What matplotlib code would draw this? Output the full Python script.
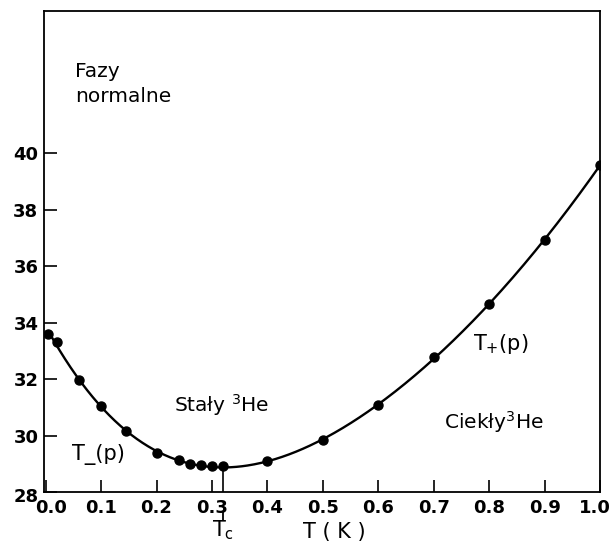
import numpy as np
import matplotlib.pyplot as plt
from matplotlib.transforms import ScaledTranslation

plt.rcParams['font.family'] = ['DejaVu Sans']

# melting curve of 3He: temperature (K) vs pressure (bar)
temp_k = [0.005, 0.02, 0.06, 0.10, 0.145, 0.20, 0.24, 0.26, 0.28, 0.30, 0.32,
          0.40, 0.50, 0.60, 0.70, 0.80, 0.90, 1.00]
pressure = [33.6, 33.32, 31.98, 31.05, 30.15, 29.4, 29.14, 28.98, 28.96, 28.91, 28.91,
            29.1, 29.85, 31.07, 32.78, 34.65, 36.95, 39.58]
t_min = 0.32
x_ticks = [0.0, 0.1, 0.2, 0.3, 0.4, 0.5, 0.6, 0.7, 0.8, 0.9, 1.0]
x_labels = ['0.0', '0.1', '0.2', '0.3', '0.4', '0.5', '0.6', '0.7', '0.8', '0.9', '1.0']
y_ticks = [28, 30, 32, 34, 36, 38, 40]

fig = plt.figure(figsize=(6.11, 5.45), dpi=100)
ax = fig.add_axes([0.072, 0.097, 0.91, 0.883])

# smooth curve through the measured points
coef = np.polyfit(temp_k, pressure, 6)
tt = np.linspace(temp_k[0], temp_k[-1], 400)
ax.plot(tt, np.polyval(coef, tt), color='black', lw=1.7, zorder=2)
ax.plot(temp_k, pressure, 'o', color='black', ms=6.5, zorder=3)

# marker for the minimum of the curve, plus a short dash under the tick label
p_min = np.polyval(coef, t_min)
ax.plot([t_min, t_min], [p_min, 28], color='black', lw=1.2, zorder=2)
ax.plot([t_min, t_min], [27.3, 27.02], color='black', lw=1.3,
        clip_on=False, zorder=5)

ax.set_xlim(-0.003, 1.0)
ax.set_ylim(28, 45.05)
ax.set_xticks(x_ticks)
ax.set_xticklabels(x_labels)
ax.set_yticks(y_ticks)
ax.tick_params(direction='in', length=9, width=1.2, labelsize=13, pad=5)
ax.tick_params(axis='x', top=False)
ax.tick_params(axis='y', right=False, pad=4)
for lab in ax.get_xticklabels() + ax.get_yticklabels():
    lab.set_fontweight('bold')
for s in ax.spines.values():
    s.set_linewidth(1.3)

# nudge the corner labels away from each other
xl = ax.get_xticklabels()
xl[0].set_transform(xl[0].get_transform() + ScaledTranslation(5 / 100, 0, fig.dpi_scale_trans))
xl[-1].set_transform(xl[-1].get_transform() + ScaledTranslation(-5 / 100, 0, fig.dpi_scale_trans))
yl = ax.get_yticklabels()
yl[0].set_transform(yl[0].get_transform() + ScaledTranslation(0, -3 / 100, fig.dpi_scale_trans))

ax.text(0.053, 43.25, 'Fazy\nnormalne', fontsize=14.5, ha='left', va='top',
        linespacing=1.42)
ax.text(0.232, 31.1, 'Stały $^3$He', fontsize=14.5, ha='left', va='center')
ax.text(0.718, 30.5, 'Ciekły$^3$He', fontsize=14.5, ha='left', va='center')
ax.text(0.047, 29.35, 'T_(p)', fontsize=15, ha='left', va='center')
ax.text(0.770, 33.25, 'T$_{+}$(p)', fontsize=15, ha='left', va='center')

ax.annotate('T$_{\\mathregular{c}}$', xy=(t_min, 28), xycoords='data',
            xytext=(0, -27.5), textcoords='offset points',
            ha='center', va='center', fontsize=15, annotation_clip=False)
ax.annotate('T ( K )', xy=(0.52, 28), xycoords='data',
            xytext=(0, -28.5), textcoords='offset points',
            ha='center', va='center', fontsize=15, annotation_clip=False)

fig.savefig('out.png', dpi=100)
